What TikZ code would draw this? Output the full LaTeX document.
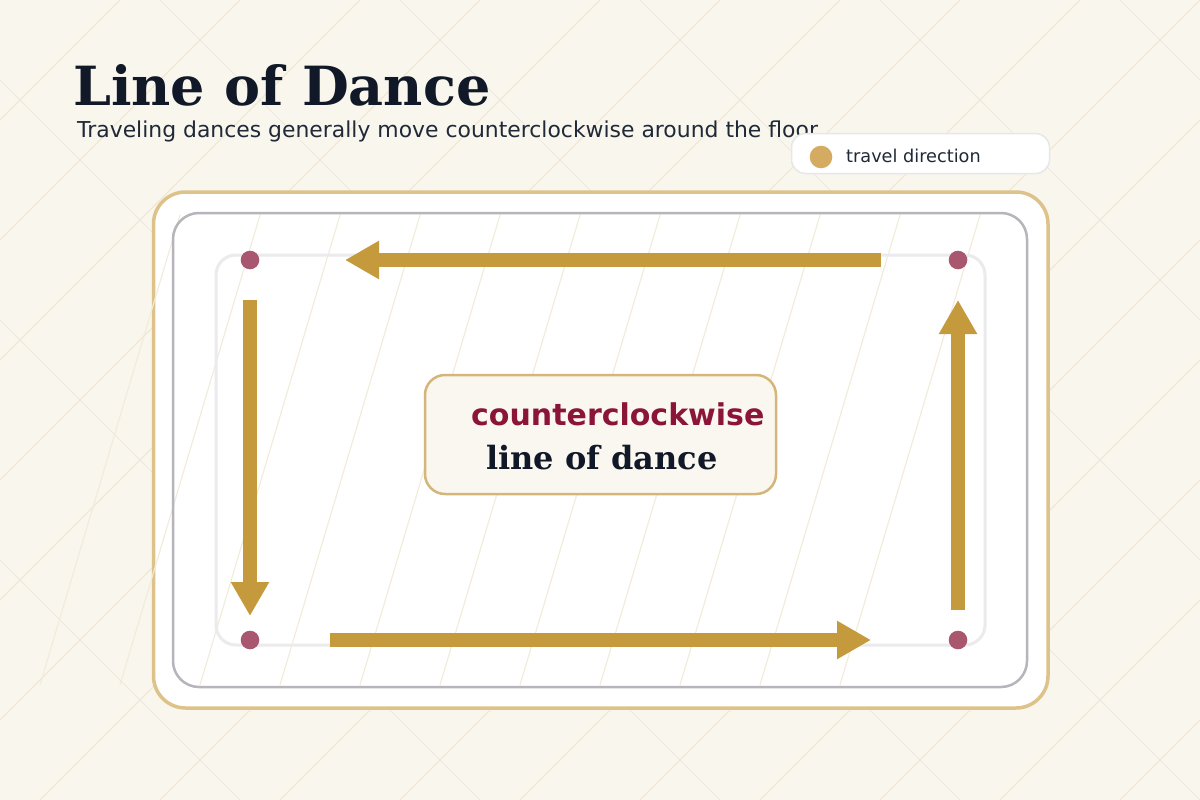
\documentclass[tikz,border=0pt]{standalone}
\usepackage{fontspec}
\setmainfont{DejaVu Serif}
\newfontfamily\dvsans{DejaVu Sans}
\usetikzlibrary{arrows.meta}
\definecolor{bgc}{HTML}{F9F6EE}
\definecolor{hatchtan}{HTML}{F1E8D4}
\definecolor{hatchgray}{HTML}{E8E4DB}
\definecolor{boardc}{HTML}{F3EBDA}
\definecolor{goldb}{HTML}{DDC38A}
\definecolor{grayb}{HTML}{B5B5BB}
\definecolor{trackc}{HTML}{EBEBED}
\definecolor{arrowc}{HTML}{C49A3C}
\definecolor{dotc}{HTML}{A9566F}
\definecolor{maroon}{HTML}{8B1538}
\definecolor{inkc}{HTML}{111827}
\definecolor{subc}{HTML}{1F2937}
\definecolor{cboxfill}{HTML}{FAF7F0}
\definecolor{cboxdraw}{HTML}{D4B67A}
\definecolor{legdraw}{HTML}{E6E7EA}
\definecolor{legdot}{HTML}{D4AB60}
\tikzset{
  hatchA/.style={draw=hatchtan, line width=1.1pt},
  hatchB/.style={draw=hatchgray, line width=0.5pt},
  board/.style={draw=boardc, line width=1.1pt},
  flow/.style={draw=arrowc, line width=13.5pt, -{Triangle[length=34pt,width=36pt]}},
  corner/.style={circle, fill=dotc, minimum size=18.6pt, inner sep=0pt},
  txt/.style={inner sep=0pt, anchor=base west},
}
\begin{document}
\begin{tikzpicture}[x=1pt,y=-1pt]
\useasboundingbox (0,0) rectangle (1200,800);
\fill[bgc] (0,0) rectangle (1200,800);
\begin{scope}
  \clip (0,0) rectangle (1200,800);
  \foreach \k in {1,...,16} \draw[hatchA] (120*\k,0) -- ++(-800,800);
  \foreach \j in {-4,...,4} \draw[hatchB] (160+240*\j,0) -- ++(800,800);
\end{scope}
% floor
\draw[goldb, line width=3.5pt, fill=white, rounded corners=32pt] (153.5,192) rectangle (1048,708);
\foreach \k in {0,...,10} \draw[board] (40+80*\k,685) -- (180+80*\k,215);
\draw[grayb, line width=2.5pt, rounded corners=26pt] (173,213) rectangle (1027,687);
\draw[trackc, line width=3pt, rounded corners=20pt] (216,255) rectangle (985,645);
% arrows
\coordinate (topS) at (881,260);
\coordinate (topE) at (345,260);
\coordinate (leftS) at (250,300);
\coordinate (leftE) at (250,616);
\coordinate (botS) at (330,640);
\coordinate (botE) at (871,640);
\coordinate (rightS) at (958,610);
\coordinate (rightE) at (958,300);
\draw[flow] (topS) -- (topE);
\draw[flow] (leftS) -- (leftE);
\draw[flow] (botS) -- (botE);
\draw[flow] (rightS) -- (rightE);
% corners
\node[corner] (tl) at (250,260) {};
\node[corner] (tr) at (958,260) {};
\node[corner] (bl) at (250,640) {};
\node[corner] (br) at (958,640) {};
% center box
\node[draw=cboxdraw, fill=cboxfill, line width=2.5pt, rounded corners=20pt,
      minimum width=351pt, minimum height=119pt, inner sep=0pt] (cbox) at (600.5,434.5) {};
\node[txt, text=maroon] (ccw) at (471,425) {\dvsans\bfseries\fontsize{30}{34}\selectfont counterclockwise};
\node[txt, text=inkc] (lod) at (486,469) {\bfseries\fontsize{32}{36}\selectfont line of dance};
% title
\node[txt, text=inkc] (title) at (73,106) {\bfseries\fontsize{54}{62}\selectfont Line of Dance};
\node[txt, text=subc] (sub) at (77,137) {\dvsans\fontsize{21.9}{26}\selectfont Traveling dances generally move counterclockwise around the floor.};
% legend
\node[draw=legdraw, fill=white, line width=1.5pt, rounded corners=14pt,
      minimum width=258pt, minimum height=40pt, inner sep=0pt] (legend) at (920.5,153.5) {};
\node[circle, fill=legdot, minimum size=22.6pt, inner sep=0pt] (legdot) at (821,157) {};
\node[txt, text=subc] (legtxt) at (846,162) {\dvsans\fontsize{17.7}{20}\selectfont travel direction};
\end{tikzpicture}
\end{document}
